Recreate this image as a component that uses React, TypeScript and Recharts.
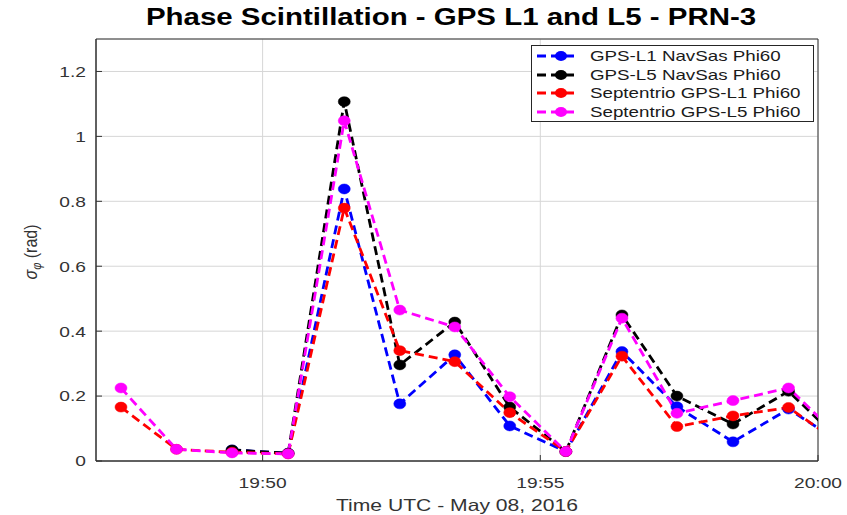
import React from 'react';
import { LineChart, Line, XAxis, YAxis, CartesianGrid, Legend, ReferenceArea, Label } from 'recharts';

// Time in minutes after 19:00 UTC (May 08, 2016)
const timeMinutes = [47.45, 48.45, 49.45, 50.46, 51.47, 52.47, 53.46, 54.45, 55.46, 56.47, 57.46, 58.47, 59.47, 60.47];
const navsasL1 = [null, null, 0.034, 0.024, 0.838, 0.176, 0.327, 0.108, 0.029, 0.337, 0.167, 0.059, 0.16, 0.05];
const navsasL5 = [null, null, 0.034, 0.024, 1.107, 0.296, 0.428, 0.166, 0.029, 0.45, 0.2, 0.114, 0.215, 0.05];
const septentrioL1 = [0.166, 0.036, 0.027, 0.022, 0.779, 0.34, 0.306, 0.149, 0.029, 0.323, 0.106, 0.139, 0.165, 0.045];
const septentrioL5 = [0.225, 0.036, 0.025, 0.022, 1.048, 0.465, 0.413, 0.198, 0.029, 0.44, 0.147, 0.186, 0.225, 0.06];

const xTicks = [50, 55, 60];
const xTickLabels = ['19:50', '19:55', '20:00'];
const yTicks = [0, 0.2, 0.4, 0.6, 0.8, 1, 1.2];

const seriesNames = ['GPS-L1 NavSas Phi60', 'GPS-L5 NavSas Phi60', 'Septentrio GPS-L1 Phi60', 'Septentrio GPS-L5 Phi60'];
const seriesKeys = ['navsasL1', 'navsasL5', 'septL1', 'septL5'];
const seriesColors = ['#0000ff', '#000000', '#ff0000', '#ff00ff'];

const data = timeMinutes.map((t, i) => ({
  t,
  navsasL1: navsasL1[i],
  navsasL5: navsasL5[i],
  septL1: septentrioL1[i],
  septL5: septentrioL5[i],
}));

const FONT = '"Liberation Sans", Arial, Helvetica, sans-serif';
const STRETCH = 1.28;

const XTick = (props: any) => {
  const { x, y, payload } = props;
  const idx = xTicks.indexOf(payload.value);
  const label = idx >= 0 ? xTickLabels[idx] : String(payload.value);
  return (
    <text transform={`translate(${x} ${y}) scale(${STRETCH} 1)`} x={0} y={0} dy="0.75em" textAnchor="middle"
      fontFamily={FONT} fontSize={15} fill="#333">{label}</text>
  );
};

const YTick = (props: any) => {
  const { x, y, payload } = props;
  return (
    <text transform={`translate(${x} ${y}) scale(${STRETCH} 1)`} x={0} y={0} dy="0.36em" textAnchor="end"
      fontFamily={FONT} fontSize={15} fill="#333">{String(payload.value)}</text>
  );
};

const XLabel = (props: any) => {
  const vb = props.viewBox || { x: 96, y: 461, width: 722, height: 40 };
  const cx = vb.x + vb.width / 2;
  const by = vb.y + 50;
  return (
    <text transform={`translate(${cx} ${by}) scale(${STRETCH} 1)`} x={0} y={0} textAnchor="middle"
      fontFamily={FONT} fontSize={16.5} fill="#333">Time UTC - May 08, 2016</text>
  );
};

const YLabel = (props: any) => {
  const vb = props.viewBox || { x: 36, y: 39, width: 60, height: 422 };
  const bx = vb.x + 1;
  const cy = vb.y + vb.height / 2 + 2;
  return (
    <text transform={`translate(${bx} ${cy}) scale(1.1 1) rotate(-90)`} x={0} y={0} textAnchor="middle"
      fontFamily={FONT} fontSize={16} fill="#333">
      <tspan fontStyle="italic">σ</tspan>
      <tspan fontStyle="italic" fontSize={11} dy={4}>φ</tspan>
      <tspan dy={-4}> (rad)</tspan>
    </text>
  );
};

const makeDot = (color: string) => (props: any) => {
  const { cx, cy, index } = props;
  if (cx == null || cy == null || Number.isNaN(cx) || Number.isNaN(cy) || props.value == null) {
    return <g key={`d-${index}`} />;
  }
  return <ellipse key={`d-${index}`} cx={cx} cy={cy} rx={6} ry={5} fill={color} stroke={color} strokeWidth={0.5} />;
};

const LegendBox = () => (
  <div style={{ position: 'relative', width: 283, height: 77, border: '1px solid #262626', background: '#fff', boxSizing: 'border-box' }}>
    {seriesNames.map((name, i) => (
      <div key={name} style={{ position: 'absolute', left: 0, top: 1 + i * 18.5, height: 18, width: '100%' }}>
        <svg width={50} height={18} style={{ position: 'absolute', left: 3, top: 0 }}>
          <line x1={2} y1={9} x2={42} y2={9} stroke={seriesColors[i]} strokeWidth={2.8} strokeDasharray="9 5" />
          <ellipse cx={26} cy={9} rx={6} ry={5} fill={seriesColors[i]} />
        </svg>
        <span style={{
          position: 'absolute', left: 58, top: 0, lineHeight: '18px', fontSize: 15, fontFamily: FONT,
          color: '#1a1a1a', transform: 'scaleX(1.25)', transformOrigin: 'left center', whiteSpace: 'nowrap',
        }}>{name}</span>
      </div>
    ))}
  </div>
);

export default function App() {
  return (
    <div style={{ position: 'absolute', left: 0, top: 0, width: 847, height: 515, background: '#fff' }}>
      <div style={{
        position: 'absolute', left: 90, top: 6, width: 722, textAlign: 'center', fontFamily: FONT,
        fontWeight: 'bold', fontSize: 23, lineHeight: '23px', color: '#000', transform: `scaleX(${STRETCH})`,
        transformOrigin: 'center center', whiteSpace: 'nowrap',
      }}>Phase Scintillation - GPS L1 and L5 - PRN-3</div>
      <LineChart width={847} height={515} data={data} margin={{ top: 39, right: 29, bottom: 14, left: 36 }}>
        <CartesianGrid stroke="#d6d6d6" strokeWidth={1} />
        <XAxis dataKey="t" type="number" domain={[47, 60]} allowDataOverflow ticks={xTicks} interval={0}
          tick={<XTick />} tickSize={-6} tickMargin={22} stroke="#333" height={40}>
          <Label content={<XLabel />} />
        </XAxis>
        <YAxis type="number" domain={[0, 1.3]} allowDataOverflow ticks={yTicks} interval={0}
          tick={<YTick />} tickSize={-6} tickMargin={16} stroke="#333" width={60}>
          <Label content={<YLabel />} />
        </YAxis>
        <ReferenceArea x1={47} x2={60} y1={0} y2={1.3} fill="none" stroke="#333" strokeWidth={1} ifOverflow="visible" />
        {seriesKeys.map((k, i) => (
          <Line key={k} dataKey={k} name={seriesNames[i]} type="linear" stroke={seriesColors[i]} strokeWidth={2.8}
            strokeDasharray="9 5" dot={makeDot(seriesColors[i])} activeDot={false} isAnimationActive={false}
            connectNulls={false} />
        ))}
        <Legend content={<LegendBox />} layout="horizontal" verticalAlign="middle" align="center"
          wrapperStyle={{ position: 'absolute', left: 531, top: 45, width: 283, height: 77 }} />
      </LineChart>
    </div>
  );
}
